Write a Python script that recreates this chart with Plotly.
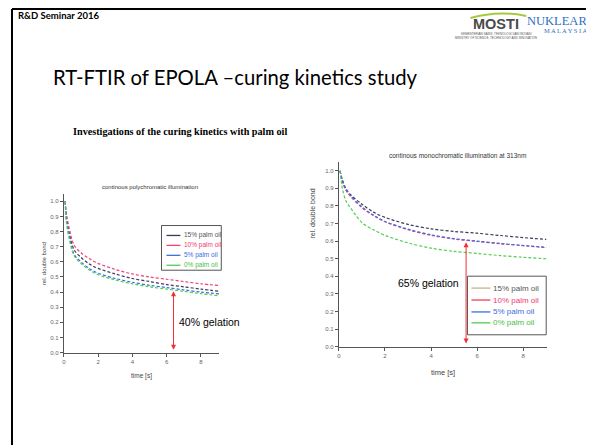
import plotly.graph_objects as go

W, H = 594, 445
OX, OY = 8, 8  # default page margin of the html body
def X(px): return (px - OX) / W
def Y(py): return 1 - (py - OY) / H

# ---------------- data ----------------
t_left = [0.08, 0.15, 0.3, 0.6, 1.0, 1.5, 2, 3, 4, 5, 6, 7, 8, 9.1]
left_15 = [1.0, 0.90, 0.80, 0.68, 0.63, 0.585, 0.557, 0.52, 0.49, 0.47, 0.45, 0.435, 0.42, 0.405]
left_10 = [1.0, 0.92, 0.83, 0.71, 0.66, 0.62, 0.59, 0.55, 0.52, 0.50, 0.485, 0.47, 0.455, 0.443]
left_5 = [1.0, 0.88, 0.78, 0.65, 0.60, 0.555, 0.525, 0.49, 0.465, 0.445, 0.43, 0.415, 0.40, 0.388]
left_0 = [1.0, 0.86, 0.76, 0.64, 0.59, 0.545, 0.515, 0.48, 0.455, 0.435, 0.42, 0.405, 0.39, 0.375]

t_right = [0.05, 0.15, 0.3, 0.5, 1.0, 1.5, 2, 3, 4, 5, 6, 7, 8, 9.0]
right_15 = [1.0, 0.95, 0.90, 0.865, 0.81, 0.765, 0.735, 0.695, 0.67, 0.655, 0.645, 0.632, 0.62, 0.61]
right_10 = [1.0, 0.94, 0.89, 0.855, 0.79, 0.745, 0.71, 0.665, 0.633, 0.612, 0.598, 0.585, 0.575, 0.565]
right_5 = [1.0, 0.945, 0.895, 0.86, 0.795, 0.748, 0.712, 0.668, 0.636, 0.614, 0.60, 0.587, 0.575, 0.563]
right_0 = [1.0, 0.90, 0.83, 0.79, 0.705, 0.665, 0.633, 0.59, 0.56, 0.542, 0.53, 0.518, 0.508, 0.50]

series_names = ["15% palm oil", "10% palm oil", "5% palm oil", "0% palm oil"]
series_colors = ["#3c3c58", "#f0407a", "#3a70e0", "#52cc52"]
right_legend_line_colors = ["#c8b08c", "#f0405a", "#3a70e0", "#52cc52"]
text_colors = ["#555555", "#f03a70", "#3a6ee0", "#44c044"]

x_ticks = [0, 2, 4, 6, 8]
y_ticks = [0.0, 0.1, 0.2, 0.3, 0.4, 0.5, 0.6, 0.7, 0.8, 0.9, 1.0]

left_gel_t, left_gel_top = 6.4, 0.405
right_gel_t, right_gel_top = 5.52, 0.593

fig = go.Figure()

for name, col, vals in zip(series_names, series_colors, [left_15, left_10, left_5, left_0]):
    fig.add_trace(go.Scatter(
        x=t_left, y=vals, mode="lines", xaxis="x", yaxis="y", name=name, showlegend=False,
        line=dict(color=col, width=1.2, dash="3px,2px", shape="spline", smoothing=0.9)))

for name, col, vals in zip(series_names, series_colors, [right_15, right_10, right_5, right_0]):
    fig.add_trace(go.Scatter(
        x=t_right, y=vals, mode="lines", xaxis="x2", yaxis="y2", name=name, showlegend=False,
        line=dict(color=col, width=1.2, dash="3px,2px", shape="spline", smoothing=0.9)))

axis_common = dict(showgrid=False, zeroline=False, showline=True, linecolor="#555",
                   linewidth=1, ticks="outside", ticklen=3, tickcolor="#555",
                   tickfont=dict(size=6, color="#666", family="Liberation Sans"))

fig.update_layout(
    width=W, height=H, margin=dict(l=0, r=0, t=0, b=0),
    paper_bgcolor="white", plot_bgcolor="white",
    font=dict(family="Liberation Sans"),
    xaxis=dict(domain=[X(62), X(218)], range=[0, 9.07], tickvals=x_ticks, anchor="y", **axis_common),
    yaxis=dict(domain=[Y(355), Y(195)], range=[0, 1.05], tickvals=y_ticks, tickformat=".1f",
               anchor="x", **axis_common),
    xaxis2=dict(domain=[X(338), X(547)], range=[0, 9.04], tickvals=x_ticks, anchor="y2", **axis_common),
    yaxis2=dict(domain=[Y(349), Y(163)], range=[0, 1.05], tickvals=y_ticks, tickformat=".1f",
                anchor="x2", **axis_common),
    showlegend=False,
)

shapes = []
ann = []
def txt(s, x, y, size, color="black", family="Lato", xanchor="center", yanchor="middle", angle=0):
    ann.append(dict(text=s, x=X(x), y=Y(y), xref="paper", yref="paper", showarrow=False,
                    font=dict(size=size, color=color, family=family), xanchor=xanchor,
                    yanchor=yanchor, textangle=angle))

# legends drawn as boxes with sample lines and coloured labels
def legend_box(x0, y0, x1, y1, item_y, lx0, lx1, tx, size, line_cols):
    shapes.append(dict(type="rect", xref="paper", yref="paper", x0=X(x0), x1=X(x1), y0=Y(y1), y1=Y(y0),
                       line=dict(color="#555", width=1), fillcolor="white", layer="above"))
    for yy, name, lc, tc in zip(item_y, series_names, line_cols, text_colors):
        shapes.append(dict(type="line", xref="paper", yref="paper", x0=X(lx0), x1=X(lx1), y0=Y(yy), y1=Y(yy),
                           line=dict(color=lc, width=1.3), layer="above"))
        txt(name, tx, yy, size, color=tc, family="Liberation Sans", xanchor="left")

legend_box(160, 227, 220, 272, [237, 247, 257, 267], 165, 179, 181, 6.5, series_colors)
legend_box(467, 278, 546, 337, [290, 302, 314, 325], 471, 490, 491, 8, right_legend_line_colors)

# slide border (left and top edges)
shapes.append(dict(type="line", xref="paper", yref="paper", x0=X(10), x1=X(10), y0=0, y1=Y(9),
                   line=dict(color="black", width=2), layer="above"))
shapes.append(dict(type="line", xref="paper", yref="paper", x0=X(10), x1=1, y0=Y(9), y1=Y(9),
                   line=dict(color="black", width=2), layer="above"))
# MOSTI arc
shapes.append(dict(type="path", xref="paper", yref="paper",
                   path=f"M {X(470)},{Y(18)} Q {X(498)},{Y(10)} {X(526)},{Y(16)}",
                   line=dict(color="#a8c840", width=2), layer="above"))

txt("<b>R&D Seminar 2016</b>", 14, 16, 9.5, xanchor="left")
txt("<b>MOSTI</b>", 496, 24, 14.5, color="#4a4a4a", family="Liberation Sans")
txt("KEMENTERIAN SAINS, TEKNOLOGI DAN INOVASI", 496, 34, 3, color="#555", family="Liberation Sans")
txt("MINISTRY OF SCIENCE, TECHNOLOGY AND INNOVATION", 496, 38, 3, color="#555", family="Liberation Sans")
txt("NUKLEAR", 589, 21, 12.5, color="#2f6fc4", family="Liberation Serif", xanchor="right")
txt("M A L A Y S I A", 589, 31, 6.5, color="#2f6fc4", family="Liberation Serif", xanchor="right")
txt("RT-FTIR of EPOLA –curing kinetics study", 49, 77, 20.3, color="black", xanchor="left")
txt("<b>Investigations of the curing kinetics with palm oil</b>", 69, 132, 10.2,
    family="Liberation Serif", xanchor="left")
txt("continous polychromatic illumination", 148, 188, 6, color="#333", family="Liberation Sans")
txt("continous monochromatic illumination at 313nm", 457, 157, 6.5, color="#333", family="Liberation Sans")
txt("rel. double bond", 42, 265, 6, color="#444", family="Liberation Sans", angle=-90)
txt("rel. double bond", 312, 215, 7, color="#444", family="Liberation Sans", angle=-90)
txt("time [s]", 140, 378, 6.5, color="#444", family="Liberation Sans")
txt("time [s]", 442, 375, 7.5, color="#444", family="Liberation Sans")

# gelation arrows and labels (data coordinates)
for xa, ya, xt, yt in [("x", "y", left_gel_t, left_gel_top), ("x2", "y2", right_gel_t, right_gel_top)]:
    ann.append(dict(x=xt, y=yt, ax=xt, ay=0.01, xref=xa, yref=ya, axref=xa, ayref=ya,
                    showarrow=True, arrowhead=2, arrowside="end+start", arrowsize=1,
                    arrowwidth=1, arrowcolor="#f03030", text=""))
ann.append(dict(text="40% gelation", x=8.5, y=0.2, xref="x", yref="y", showarrow=False,
                font=dict(size=10.5, color="black", family="Liberation Sans")))
ann.append(dict(text="65% gelation", x=3.9, y=0.36, xref="x2", yref="y2", showarrow=False,
                font=dict(size=10.5, color="black", family="Liberation Sans")))

fig.update_layout(annotations=ann, shapes=shapes)
fig.write_html("out.html", config={"displayModeBar": False})
